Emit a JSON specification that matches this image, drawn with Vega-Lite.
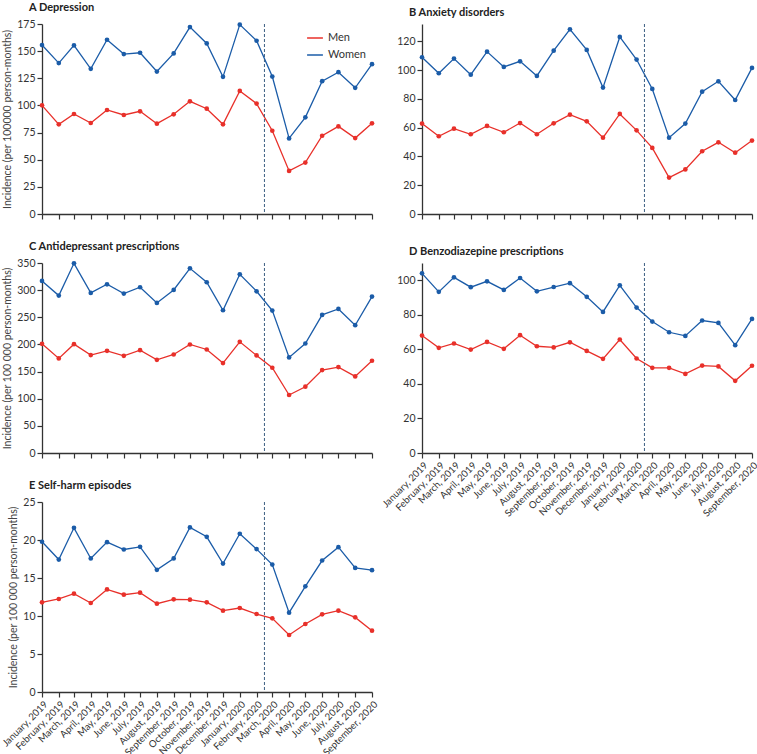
{
  "$schema": "https://vega.github.io/schema/vega-lite/v6.json",
  "padding": {"left": 0, "top": 2, "right": 0, "bottom": 0},
  "config": {
    "font": "Lato",
    "view": {"stroke": null},
    "axis": {"grid": false, "domainColor": "#333", "tickColor": "#333", "domainWidth": 1.3, "tickWidth": 1.2, "tickSize": 5, "labelFontSize": 10.5, "labelColor": "#333", "titleFontSize": 10.5, "titleFontWeight": "normal", "titleColor": "#444", "labelFont": "Lato", "titleFont": "Lato", "titlePadding": 4},
    "axisX": {"labelFontSize": 9.6},
    "title": {"anchor": "start", "fontSize": 11, "fontWeight": "bold", "font": "Lato", "color": "#222", "offset": 6, "dx": -13, "frame": "group"},
    "legend": {"labelFontSize": 11, "labelColor": "#333", "labelFont": "Lato"}
  },
  "data": {"values": [
    {"p":"A","s":"Men","m":"2019-01-01T00:00","v":100.1},{"p":"A","s":"Men","m":"2019-02-01T00:00","v":82.6},{"p":"A","s":"Men","m":"2019-03-01T00:00","v":92.1},{"p":"A","s":"Men","m":"2019-04-01T00:00","v":83.8},{"p":"A","s":"Men","m":"2019-05-01T00:00","v":95.8},{"p":"A","s":"Men","m":"2019-06-01T00:00","v":91.2},{"p":"A","s":"Men","m":"2019-07-01T00:00","v":94.6},{"p":"A","s":"Men","m":"2019-08-01T00:00","v":83.2},{"p":"A","s":"Men","m":"2019-09-01T00:00","v":91.8},{"p":"A","s":"Men","m":"2019-10-01T00:00","v":103.8},{"p":"A","s":"Men","m":"2019-11-01T00:00","v":97.0},{"p":"A","s":"Men","m":"2019-12-01T00:00","v":82.6},{"p":"A","s":"Men","m":"2020-01-01T00:00","v":113.4},{"p":"A","s":"Men","m":"2020-02-01T00:00","v":101.7},{"p":"A","s":"Men","m":"2020-03-01T00:00","v":76.7},{"p":"A","s":"Men","m":"2020-04-01T00:00","v":39.7},{"p":"A","s":"Men","m":"2020-05-01T00:00","v":47.4},{"p":"A","s":"Men","m":"2020-06-01T00:00","v":72.1},{"p":"A","s":"Men","m":"2020-07-01T00:00","v":80.7},{"p":"A","s":"Men","m":"2020-08-01T00:00","v":69.9},{"p":"A","s":"Men","m":"2020-09-01T00:00","v":83.5},
    {"p":"A","s":"Women","m":"2019-01-01T00:00","v":155.6},{"p":"A","s":"Women","m":"2019-02-01T00:00","v":139.0},{"p":"A","s":"Women","m":"2019-03-01T00:00","v":155.3},{"p":"A","s":"Women","m":"2019-04-01T00:00","v":133.7},{"p":"A","s":"Women","m":"2019-05-01T00:00","v":160.5},{"p":"A","s":"Women","m":"2019-06-01T00:00","v":147.3},{"p":"A","s":"Women","m":"2019-07-01T00:00","v":148.5},{"p":"A","s":"Women","m":"2019-08-01T00:00","v":131.2},{"p":"A","s":"Women","m":"2019-09-01T00:00","v":147.9},{"p":"A","s":"Women","m":"2019-10-01T00:00","v":172.2},{"p":"A","s":"Women","m":"2019-11-01T00:00","v":157.1},{"p":"A","s":"Women","m":"2019-12-01T00:00","v":126.3},{"p":"A","s":"Women","m":"2020-01-01T00:00","v":174.4},{"p":"A","s":"Women","m":"2020-02-01T00:00","v":159.6},{"p":"A","s":"Women","m":"2020-03-01T00:00","v":126.6},{"p":"A","s":"Women","m":"2020-04-01T00:00","v":69.6},{"p":"A","s":"Women","m":"2020-05-01T00:00","v":89.0},{"p":"A","s":"Women","m":"2020-06-01T00:00","v":122.3},{"p":"A","s":"Women","m":"2020-07-01T00:00","v":130.6},{"p":"A","s":"Women","m":"2020-08-01T00:00","v":116.2},{"p":"A","s":"Women","m":"2020-09-01T00:00","v":138.0},
    {"p":"B","s":"Men","m":"2019-01-01T00:00","v":62.8},{"p":"B","s":"Men","m":"2019-02-01T00:00","v":54.0},{"p":"B","s":"Men","m":"2019-03-01T00:00","v":59.3},{"p":"B","s":"Men","m":"2019-04-01T00:00","v":55.4},{"p":"B","s":"Men","m":"2019-05-01T00:00","v":61.2},{"p":"B","s":"Men","m":"2019-06-01T00:00","v":56.8},{"p":"B","s":"Men","m":"2019-07-01T00:00","v":63.2},{"p":"B","s":"Men","m":"2019-08-01T00:00","v":55.4},{"p":"B","s":"Men","m":"2019-09-01T00:00","v":63.0},{"p":"B","s":"Men","m":"2019-10-01T00:00","v":69.0},{"p":"B","s":"Men","m":"2019-11-01T00:00","v":64.4},{"p":"B","s":"Men","m":"2019-12-01T00:00","v":53.0},{"p":"B","s":"Men","m":"2020-01-01T00:00","v":69.5},{"p":"B","s":"Men","m":"2020-02-01T00:00","v":58.1},{"p":"B","s":"Men","m":"2020-03-01T00:00","v":45.9},{"p":"B","s":"Men","m":"2020-04-01T00:00","v":25.3},{"p":"B","s":"Men","m":"2020-05-01T00:00","v":31.0},{"p":"B","s":"Men","m":"2020-06-01T00:00","v":43.6},{"p":"B","s":"Men","m":"2020-07-01T00:00","v":49.8},{"p":"B","s":"Men","m":"2020-08-01T00:00","v":42.6},{"p":"B","s":"Men","m":"2020-09-01T00:00","v":51.0},
    {"p":"B","s":"Women","m":"2019-01-01T00:00","v":108.9},{"p":"B","s":"Women","m":"2019-02-01T00:00","v":97.8},{"p":"B","s":"Women","m":"2019-03-01T00:00","v":108.0},{"p":"B","s":"Women","m":"2019-04-01T00:00","v":96.8},{"p":"B","s":"Women","m":"2019-05-01T00:00","v":112.8},{"p":"B","s":"Women","m":"2019-06-01T00:00","v":102.2},{"p":"B","s":"Women","m":"2019-07-01T00:00","v":106.1},{"p":"B","s":"Women","m":"2019-08-01T00:00","v":95.9},{"p":"B","s":"Women","m":"2019-09-01T00:00","v":113.5},{"p":"B","s":"Women","m":"2019-10-01T00:00","v":128.3},{"p":"B","s":"Women","m":"2019-11-01T00:00","v":114.0},{"p":"B","s":"Women","m":"2019-12-01T00:00","v":87.8},{"p":"B","s":"Women","m":"2020-01-01T00:00","v":123.0},{"p":"B","s":"Women","m":"2020-02-01T00:00","v":107.3},{"p":"B","s":"Women","m":"2020-03-01T00:00","v":86.9},{"p":"B","s":"Women","m":"2020-04-01T00:00","v":53.0},{"p":"B","s":"Women","m":"2020-05-01T00:00","v":62.8},{"p":"B","s":"Women","m":"2020-06-01T00:00","v":85.0},{"p":"B","s":"Women","m":"2020-07-01T00:00","v":92.2},{"p":"B","s":"Women","m":"2020-08-01T00:00","v":79.2},{"p":"B","s":"Women","m":"2020-09-01T00:00","v":101.5},
    {"p":"C","s":"Men","m":"2019-01-01T00:00","v":201.1},{"p":"C","s":"Men","m":"2019-02-01T00:00","v":174.2},{"p":"C","s":"Men","m":"2019-03-01T00:00","v":200.5},{"p":"C","s":"Men","m":"2019-04-01T00:00","v":180.3},{"p":"C","s":"Men","m":"2019-05-01T00:00","v":188.2},{"p":"C","s":"Men","m":"2019-06-01T00:00","v":179.0},{"p":"C","s":"Men","m":"2019-07-01T00:00","v":189.5},{"p":"C","s":"Men","m":"2019-08-01T00:00","v":171.7},{"p":"C","s":"Men","m":"2019-09-01T00:00","v":181.5},{"p":"C","s":"Men","m":"2019-10-01T00:00","v":199.9},{"p":"C","s":"Men","m":"2019-11-01T00:00","v":190.7},{"p":"C","s":"Men","m":"2019-12-01T00:00","v":165.6},{"p":"C","s":"Men","m":"2020-01-01T00:00","v":204.8},{"p":"C","s":"Men","m":"2020-02-01T00:00","v":179.7},{"p":"C","s":"Men","m":"2020-03-01T00:00","v":157.0},{"p":"C","s":"Men","m":"2020-04-01T00:00","v":106.8},{"p":"C","s":"Men","m":"2020-05-01T00:00","v":122.1},{"p":"C","s":"Men","m":"2020-06-01T00:00","v":152.7},{"p":"C","s":"Men","m":"2020-07-01T00:00","v":158.3},{"p":"C","s":"Men","m":"2020-08-01T00:00","v":141.1},{"p":"C","s":"Men","m":"2020-09-01T00:00","v":169.9},
    {"p":"C","s":"Women","m":"2019-01-01T00:00","v":316.9},{"p":"C","s":"Women","m":"2019-02-01T00:00","v":290.0},{"p":"C","s":"Women","m":"2019-03-01T00:00","v":349.4},{"p":"C","s":"Women","m":"2019-04-01T00:00","v":294.9},{"p":"C","s":"Women","m":"2019-05-01T00:00","v":310.8},{"p":"C","s":"Women","m":"2019-06-01T00:00","v":293.6},{"p":"C","s":"Women","m":"2019-07-01T00:00","v":305.3},{"p":"C","s":"Women","m":"2019-08-01T00:00","v":276.5},{"p":"C","s":"Women","m":"2019-09-01T00:00","v":300.4},{"p":"C","s":"Women","m":"2019-10-01T00:00","v":340.2},{"p":"C","s":"Women","m":"2019-11-01T00:00","v":314.5},{"p":"C","s":"Women","m":"2019-12-01T00:00","v":263.0},{"p":"C","s":"Women","m":"2020-01-01T00:00","v":329.2},{"p":"C","s":"Women","m":"2020-02-01T00:00","v":297.9},{"p":"C","s":"Women","m":"2020-03-01T00:00","v":262.4},{"p":"C","s":"Women","m":"2020-04-01T00:00","v":176.0},{"p":"C","s":"Women","m":"2020-05-01T00:00","v":201.7},{"p":"C","s":"Women","m":"2020-06-01T00:00","v":254.4},{"p":"C","s":"Women","m":"2020-07-01T00:00","v":265.4},{"p":"C","s":"Women","m":"2020-08-01T00:00","v":235.4},{"p":"C","s":"Women","m":"2020-09-01T00:00","v":288.1},
    {"p":"D","s":"Men","m":"2019-01-01T00:00","v":68.0},{"p":"D","s":"Men","m":"2019-02-01T00:00","v":60.9},{"p":"D","s":"Men","m":"2019-03-01T00:00","v":63.4},{"p":"D","s":"Men","m":"2019-04-01T00:00","v":59.9},{"p":"D","s":"Men","m":"2019-05-01T00:00","v":64.3},{"p":"D","s":"Men","m":"2019-06-01T00:00","v":60.3},{"p":"D","s":"Men","m":"2019-07-01T00:00","v":68.2},{"p":"D","s":"Men","m":"2019-08-01T00:00","v":61.8},{"p":"D","s":"Men","m":"2019-09-01T00:00","v":61.1},{"p":"D","s":"Men","m":"2019-10-01T00:00","v":64.1},{"p":"D","s":"Men","m":"2019-11-01T00:00","v":59.1},{"p":"D","s":"Men","m":"2019-12-01T00:00","v":54.5},{"p":"D","s":"Men","m":"2020-01-01T00:00","v":65.7},{"p":"D","s":"Men","m":"2020-02-01T00:00","v":54.7},{"p":"D","s":"Men","m":"2020-03-01T00:00","v":49.3},{"p":"D","s":"Men","m":"2020-04-01T00:00","v":49.3},{"p":"D","s":"Men","m":"2020-05-01T00:00","v":45.8},{"p":"D","s":"Men","m":"2020-06-01T00:00","v":50.6},{"p":"D","s":"Men","m":"2020-07-01T00:00","v":50.1},{"p":"D","s":"Men","m":"2020-08-01T00:00","v":41.8},{"p":"D","s":"Men","m":"2020-09-01T00:00","v":50.5},
    {"p":"D","s":"Women","m":"2019-01-01T00:00","v":104.0},{"p":"D","s":"Women","m":"2019-02-01T00:00","v":93.3},{"p":"D","s":"Women","m":"2019-03-01T00:00","v":101.7},{"p":"D","s":"Women","m":"2019-04-01T00:00","v":96.0},{"p":"D","s":"Women","m":"2019-05-01T00:00","v":99.4},{"p":"D","s":"Women","m":"2019-06-01T00:00","v":94.4},{"p":"D","s":"Women","m":"2019-07-01T00:00","v":101.3},{"p":"D","s":"Women","m":"2019-08-01T00:00","v":93.6},{"p":"D","s":"Women","m":"2019-09-01T00:00","v":96.1},{"p":"D","s":"Women","m":"2019-10-01T00:00","v":98.3},{"p":"D","s":"Women","m":"2019-11-01T00:00","v":90.4},{"p":"D","s":"Women","m":"2019-12-01T00:00","v":81.7},{"p":"D","s":"Women","m":"2020-01-01T00:00","v":97.1},{"p":"D","s":"Women","m":"2020-02-01T00:00","v":84.2},{"p":"D","s":"Women","m":"2020-03-01T00:00","v":76.1},{"p":"D","s":"Women","m":"2020-04-01T00:00","v":69.9},{"p":"D","s":"Women","m":"2020-05-01T00:00","v":67.8},{"p":"D","s":"Women","m":"2020-06-01T00:00","v":76.7},{"p":"D","s":"Women","m":"2020-07-01T00:00","v":75.3},{"p":"D","s":"Women","m":"2020-08-01T00:00","v":62.4},{"p":"D","s":"Women","m":"2020-09-01T00:00","v":77.6},
    {"p":"E","s":"Men","m":"2019-01-01T00:00","v":11.8},{"p":"E","s":"Men","m":"2019-02-01T00:00","v":12.24},{"p":"E","s":"Men","m":"2019-03-01T00:00","v":12.94},{"p":"E","s":"Men","m":"2019-04-01T00:00","v":11.71},{"p":"E","s":"Men","m":"2019-05-01T00:00","v":13.5},{"p":"E","s":"Men","m":"2019-06-01T00:00","v":12.8},{"p":"E","s":"Men","m":"2019-07-01T00:00","v":13.07},{"p":"E","s":"Men","m":"2019-08-01T00:00","v":11.62},{"p":"E","s":"Men","m":"2019-09-01T00:00","v":12.19},{"p":"E","s":"Men","m":"2019-10-01T00:00","v":12.15},{"p":"E","s":"Men","m":"2019-11-01T00:00","v":11.8},{"p":"E","s":"Men","m":"2019-12-01T00:00","v":10.7},{"p":"E","s":"Men","m":"2020-01-01T00:00","v":11.05},{"p":"E","s":"Men","m":"2020-02-01T00:00","v":10.26},{"p":"E","s":"Men","m":"2020-03-01T00:00","v":9.69},{"p":"E","s":"Men","m":"2020-04-01T00:00","v":7.5},{"p":"E","s":"Men","m":"2020-05-01T00:00","v":8.95},{"p":"E","s":"Men","m":"2020-06-01T00:00","v":10.22},{"p":"E","s":"Men","m":"2020-07-01T00:00","v":10.7},{"p":"E","s":"Men","m":"2020-08-01T00:00","v":9.82},{"p":"E","s":"Men","m":"2020-09-01T00:00","v":8.07},
    {"p":"E","s":"Women","m":"2019-01-01T00:00","v":19.77},{"p":"E","s":"Women","m":"2019-02-01T00:00","v":17.43},{"p":"E","s":"Women","m":"2019-03-01T00:00","v":21.6},{"p":"E","s":"Women","m":"2019-04-01T00:00","v":17.57},{"p":"E","s":"Women","m":"2019-05-01T00:00","v":19.72},{"p":"E","s":"Women","m":"2019-06-01T00:00","v":18.75},{"p":"E","s":"Women","m":"2019-07-01T00:00","v":19.1},{"p":"E","s":"Women","m":"2019-08-01T00:00","v":16.07},{"p":"E","s":"Women","m":"2019-09-01T00:00","v":17.57},{"p":"E","s":"Women","m":"2019-10-01T00:00","v":21.66},{"p":"E","s":"Women","m":"2019-11-01T00:00","v":20.42},{"p":"E","s":"Women","m":"2019-12-01T00:00","v":16.9},{"p":"E","s":"Women","m":"2020-01-01T00:00","v":20.82},{"p":"E","s":"Women","m":"2020-02-01T00:00","v":18.8},{"p":"E","s":"Women","m":"2020-03-01T00:00","v":16.77},{"p":"E","s":"Women","m":"2020-04-01T00:00","v":10.44},{"p":"E","s":"Women","m":"2020-05-01T00:00","v":13.91},{"p":"E","s":"Women","m":"2020-06-01T00:00","v":17.3},{"p":"E","s":"Women","m":"2020-07-01T00:00","v":19.06},{"p":"E","s":"Women","m":"2020-08-01T00:00","v":16.33},{"p":"E","s":"Women","m":"2020-09-01T00:00","v":16.03}
  ]},
  "columns": 2,
  "bounds": "flush",
  "spacing": {"row": 49, "column": 50},
  "resolve": {"legend": {"color": "independent"}},
  "concat": [
    {
      "width": 330, "height": 190,
      "title": "A   Depression",
      "layer": [
        {"transform": [{"filter": "datum.p === 'A'"}],
         "mark": {"type": "line", "strokeWidth": 1.3, "point": {"filled": true, "size": 22}},
         "encoding": {
           "x": {"field": "m", "type": "temporal", "scale": {"domain": [{"year": 2019, "month": 1, "date": 1}, {"year": 2020, "month": 9, "date": 1}]}, "axis": {"title": null, "labels": false, "tickCount": {"interval": "month", "step": 1}}},
           "y": {"field": "v", "type": "quantitative", "scale": {"domain": [0, 175]}, "axis": {"values": [0, 25, 50, 75, 100, 125, 150, 175], "title": "Incidence (per 100000 person-months)"}},
           "color": {"field": "s", "type": "nominal", "scale": {"domain": ["Men", "Women"], "range": ["#e8302a", "#1b5ca8"]}, "legend": {"title": null, "orient": "top-right", "offset": 5, "symbolType": "stroke", "symbolSize": 250, "symbolStrokeWidth": 1.5, "rowPadding": 3}}
         }},
        {"data": {"values": [{"d": "2020-02-15T12:00"}]},
         "mark": {"type": "rule", "strokeDash": [3, 2], "color": "#3d5f82", "strokeWidth": 1},
         "encoding": {"x": {"field": "d", "type": "temporal"}}}
      ]
    },
    {
      "width": 330, "height": 190,
      "title": "B   Anxiety disorders",
      "layer": [
        {"transform": [{"filter": "datum.p === 'B'"}],
         "mark": {"type": "line", "strokeWidth": 1.3, "point": {"filled": true, "size": 22}},
         "encoding": {
           "x": {"field": "m", "type": "temporal", "scale": {"domain": [{"year": 2019, "month": 1, "date": 1}, {"year": 2020, "month": 9, "date": 1}]}, "axis": {"title": null, "labels": false, "tickCount": {"interval": "month", "step": 1}}},
           "y": {"field": "v", "type": "quantitative", "scale": {"domain": [0, 132], "nice": false}, "axis": {"values": [0, 20, 40, 60, 80, 100, 120], "title": null}},
           "color": {"field": "s", "type": "nominal", "scale": {"domain": ["Men", "Women"], "range": ["#e8302a", "#1b5ca8"]}, "legend": null}
         }},
        {"data": {"values": [{"d": "2020-02-15T12:00"}]},
         "mark": {"type": "rule", "strokeDash": [3, 2], "color": "#3d5f82", "strokeWidth": 1},
         "encoding": {"x": {"field": "d", "type": "temporal"}}}
      ]
    },
    {
      "width": 330, "height": 190,
      "title": "C   Antidepressant prescriptions",
      "layer": [
        {"transform": [{"filter": "datum.p === 'C'"}],
         "mark": {"type": "line", "strokeWidth": 1.3, "point": {"filled": true, "size": 22}},
         "encoding": {
           "x": {"field": "m", "type": "temporal", "scale": {"domain": [{"year": 2019, "month": 1, "date": 1}, {"year": 2020, "month": 9, "date": 1}]}, "axis": {"title": null, "labels": false, "tickCount": {"interval": "month", "step": 1}}},
           "y": {"field": "v", "type": "quantitative", "scale": {"domain": [0, 350]}, "axis": {"values": [0, 50, 100, 150, 200, 250, 300, 350], "title": "Incidence (per 100 000 person-months)"}},
           "color": {"field": "s", "type": "nominal", "scale": {"domain": ["Men", "Women"], "range": ["#e8302a", "#1b5ca8"]}, "legend": null}
         }},
        {"data": {"values": [{"d": "2020-02-15T12:00"}]},
         "mark": {"type": "rule", "strokeDash": [3, 2], "color": "#3d5f82", "strokeWidth": 1},
         "encoding": {"x": {"field": "d", "type": "temporal"}}}
      ]
    },
    {
      "width": 330, "height": 190,
      "title": "D   Benzodiazepine prescriptions",
      "layer": [
        {"transform": [{"filter": "datum.p === 'D'"}],
         "mark": {"type": "line", "strokeWidth": 1.3, "point": {"filled": true, "size": 22}},
         "encoding": {
           "x": {"field": "m", "type": "temporal", "scale": {"domain": [{"year": 2019, "month": 1, "date": 1}, {"year": 2020, "month": 9, "date": 1}]}, "axis": {"title": null, "format": "%B, %Y", "labelAngle": -45, "labelAlign": "right", "labelBaseline": "top", "labelOverlap": false, "labelFlush": false, "labelBound": false, "tickCount": {"interval": "month", "step": 1}}},
           "y": {"field": "v", "type": "quantitative", "scale": {"domain": [0, 110], "nice": false}, "axis": {"values": [0, 20, 40, 60, 80, 100], "title": null}},
           "color": {"field": "s", "type": "nominal", "scale": {"domain": ["Men", "Women"], "range": ["#e8302a", "#1b5ca8"]}, "legend": null}
         }},
        {"data": {"values": [{"d": "2020-02-15T12:00"}]},
         "mark": {"type": "rule", "strokeDash": [3, 2], "color": "#3d5f82", "strokeWidth": 1},
         "encoding": {"x": {"field": "d", "type": "temporal"}}}
      ]
    },
    {
      "width": 330, "height": 190,
      "title": "E   Self-harm episodes",
      "layer": [
        {"transform": [{"filter": "datum.p === 'E'"}],
         "mark": {"type": "line", "strokeWidth": 1.3, "point": {"filled": true, "size": 22}},
         "encoding": {
           "x": {"field": "m", "type": "temporal", "scale": {"domain": [{"year": 2019, "month": 1, "date": 1}, {"year": 2020, "month": 9, "date": 1}]}, "axis": {"title": null, "format": "%B, %Y", "labelAngle": -45, "labelAlign": "right", "labelBaseline": "top", "labelOverlap": false, "labelFlush": false, "labelBound": false, "tickCount": {"interval": "month", "step": 1}}},
           "y": {"field": "v", "type": "quantitative", "scale": {"domain": [0, 25]}, "axis": {"values": [0, 5, 10, 15, 20, 25], "title": "Incidence (per 100 000 person-months)"}},
           "color": {"field": "s", "type": "nominal", "scale": {"domain": ["Men", "Women"], "range": ["#e8302a", "#1b5ca8"]}, "legend": null}
         }},
        {"data": {"values": [{"d": "2020-02-15T12:00"}]},
         "mark": {"type": "rule", "strokeDash": [3, 2], "color": "#3d5f82", "strokeWidth": 1},
         "encoding": {"x": {"field": "d", "type": "temporal"}}}
      ]
    }
  ]
}
